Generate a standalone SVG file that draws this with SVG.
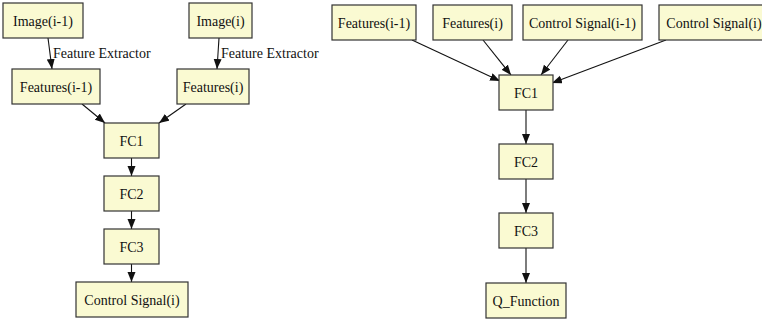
<svg xmlns="http://www.w3.org/2000/svg" width="762" height="320" viewBox="0 0 762 320">
<style>
.n rect{fill:#fafad2;stroke:#333;stroke-width:1.2}
text{font-family:'Liberation Serif','DejaVu Serif',serif;font-size:14px;fill:#111}
.n text{text-anchor:middle}
.e line{stroke:#111;stroke-width:1.1;marker-end:url(#ah)}
</style>
<defs>
<marker id="ah" markerUnits="userSpaceOnUse" markerWidth="12" markerHeight="9" refX="10" refY="4" orient="auto">
<path d="M0,0 L10,4 L0,8 z" fill="#111"/>
</marker>
</defs>
<rect width="762" height="320" fill="#fff"/>
<g id="L_connectors" class="e">
<line x1="48" y1="38" x2="52" y2="69"/>
<line x1="219" y1="38" x2="217" y2="69"/>
<line x1="82" y1="104" x2="105" y2="123"/>
<line x1="186" y1="104" x2="159" y2="123"/>
<line x1="131.5" y1="158" x2="131.5" y2="176"/>
<line x1="131.5" y1="211" x2="131.5" y2="229"/>
<line x1="131.5" y1="264" x2="131.5" y2="282"/>
</g>
<g id="R_connectors" class="e">
<line x1="412" y1="40" x2="500" y2="81"/>
<line x1="483" y1="40" x2="511" y2="75"/>
<line x1="568" y1="40" x2="541" y2="75"/>
<line x1="666" y1="40" x2="552" y2="83"/>
<line x1="526" y1="110" x2="526" y2="144"/>
<line x1="526" y1="179" x2="526" y2="213"/>
<line x1="526" y1="248" x2="526" y2="283"/>
</g>
<g id="edge_labels">
<text x="53" y="58" font-family="Liberation Serif, serif">Feature Extractor</text>
<text x="221" y="58" font-family="Liberation Serif, serif">Feature Extractor</text>
</g>
<g id="L_image_prev" class="n"><rect x="3" y="3" width="80" height="35"/><text x="43" y="25.5">Image(i-1)</text></g>
<g id="L_image_cur" class="n"><rect x="189" y="3" width="63" height="35"/><text x="220.5" y="25.5">Image(i)</text></g>
<g id="L_features_prev" class="n"><rect x="12" y="69" width="88" height="35"/><text x="56" y="91.5">Features(i-1)</text></g>
<g id="L_features_cur" class="n"><rect x="177" y="69" width="72" height="35"/><text x="213" y="91.5">Features(i)</text></g>
<g id="L_fc1" class="n"><rect x="104" y="123" width="55" height="35"/><text x="131.5" y="145.5">FC1</text></g>
<g id="L_fc2" class="n"><rect x="104" y="176" width="55" height="35"/><text x="131.5" y="198.5">FC2</text></g>
<g id="L_fc3" class="n"><rect x="104" y="229" width="55" height="35"/><text x="131.5" y="251.5">FC3</text></g>
<g id="L_control" class="n"><rect x="76" y="282" width="112" height="35"/><text x="132" y="304.5">Control Signal(i)</text></g>
<g id="R_features_prev" class="n"><rect x="332" y="5" width="84" height="35"/><text x="374" y="27.5">Features(i-1)</text></g>
<g id="R_features_cur" class="n"><rect x="433" y="5" width="79" height="35"/><text x="472.5" y="27.5">Features(i)</text></g>
<g id="R_control_prev" class="n"><rect x="523" y="5" width="119" height="35"/><text x="582.5" y="27.5">Control Signal(i-1)</text></g>
<g id="R_control_cur" class="n"><rect x="659" y="5" width="111" height="35"/><text x="714" y="27.5">Control Signal(i)</text></g>
<g id="R_fc1" class="n"><rect x="499" y="75" width="54" height="35"/><text x="526" y="97.5">FC1</text></g>
<g id="R_fc2" class="n"><rect x="499" y="144" width="54" height="35"/><text x="526" y="166.5">FC2</text></g>
<g id="R_fc3" class="n"><rect x="499" y="213" width="54" height="35"/><text x="526" y="235.5">FC3</text></g>
<g id="R_q" class="n"><rect x="486" y="283" width="80" height="35"/><text x="526" y="305.5">Q_Function</text></g>
</svg>
